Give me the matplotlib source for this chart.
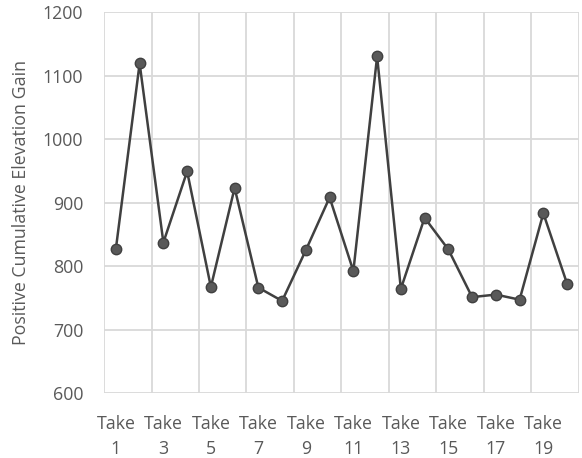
import matplotlib.pyplot as plt
import numpy as np

plt.rcParams['font.family'] = ['Open Sans', 'DejaVu Sans']

takes = list(range(1, 21))
gain = [827, 1119, 837, 949, 767, 923, 766, 745, 825, 908,
        792, 1130, 764, 876, 826, 751, 755, 747, 883, 772]

text_col = '#595959'
grid_col = '#d9d9d9'

fig = plt.figure(figsize=(5.82, 4.58), dpi=100)
ax = fig.add_axes([0.1787, 0.1419, 0.8161, 0.8319])

x = np.arange(len(takes))
ax.plot(x, gain, color='#404040', lw=1.8, marker='o', ms=7.5,
        mfc='#595959', mec='#404040', mew=1.0, zorder=3)

ax.set_xlim(-0.5, len(takes) - 0.5)
ax.set_ylim(600, 1200)
ax.set_yticks(np.arange(600, 1201, 100))

# labels on every other take, grid lines on category edges
ax.set_xticks(x[::2])
ax.set_xticklabels(['Take\n%d' % t for t in takes[::2]], linespacing=1.5)
ax.set_xticks(np.arange(-0.5, len(takes), 2), minor=True)

ax.grid(axis='y', which='major', color=grid_col, lw=1.3)
ax.grid(axis='x', which='minor', color=grid_col, lw=1.3)
ax.set_axisbelow(True)
for s in ax.spines.values():
    s.set_visible(False)

ax.tick_params(which='both', length=0, labelsize=12.8, colors=text_col)
ax.tick_params(axis='x', pad=16)
ax.tick_params(axis='y', pad=15)
ax.set_ylabel('Positive Cumulative Elevation Gain', fontsize=12.8,
              color=text_col, labelpad=9)

fig.savefig('out.png', dpi=100)
